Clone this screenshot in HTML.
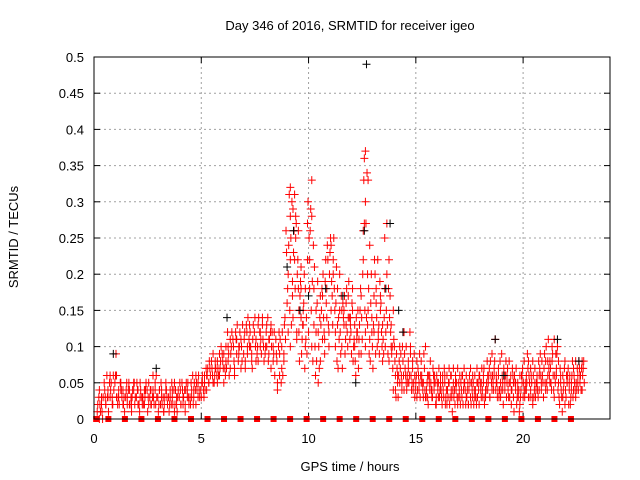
<!DOCTYPE html>
<html><head><meta charset="utf-8"><style>
html,body{margin:0;padding:0;background:#fff}
svg{display:block;font-family:"Liberation Sans",sans-serif}
</style></head><body>
<svg id="chart" width="640" height="480" viewBox="0 0 640 480">
<text x="350" y="30" text-anchor="middle" font-size="13">Day 346 of 2016, SRMTID for receiver igeo</text>
<text x="18" y="237" text-anchor="middle" font-size="13" transform="rotate(-90 18 237)">SRMTID / TECUs</text>
<text x="350" y="471" text-anchor="middle" font-size="13">GPS time / hours</text>
<g id="grid"></g>
<g id="ticks"></g>
<g id="marks"></g>
<rect x="94" y="57" width="516" height="362" fill="none" stroke="#000" stroke-width="1"/>
</svg>
<script>
const xTicks=[0,5,10,15,20];
const yTicks=[0,0.05,0.1,0.15,0.2,0.25,0.3,0.35,0.4,0.45,0.5];
const yTickLabels=["0","0.05","0.1","0.15","0.2","0.25","0.3","0.35","0.4","0.45","0.5"];
const hours=[0.2,0.3,0.4,0.5,0.6,0.7,0.8,0.9,1.0,1.1,1.2,1.3,1.4,1.5,1.6,1.7,1.8,1.9,2.0,2.1,2.2,2.3,2.4,2.5,2.6,2.7,2.8,2.9,3.0,3.1,3.2,3.3,3.4,3.5,3.6,3.7,3.8,3.9,4.0,4.1,4.2,4.3,4.4,4.5,4.6,4.7,4.8,4.9,5.0,5.1,5.2,5.3,5.4,5.5,5.6,5.7,5.8,5.9,6.0,6.1,6.2,6.3,6.4,6.5,6.6,6.7,6.8,6.9,7.0,7.1,7.2,7.3,7.4,7.5,7.6,7.7,7.8,7.9,8.0,8.1,8.2,8.3,8.4,8.5,8.6,8.7,8.8,8.9,9.0,9.1,9.2,9.3,9.4,9.5,9.6,9.7,9.8,9.9,10.0,10.1,10.2,10.3,10.4,10.5,10.6,10.7,10.8,10.9,11.0,11.1,11.2,11.3,11.4,11.5,11.6,11.7,11.8,11.9,12.0,12.1,12.2,12.3,12.4,12.5,12.6,12.7,12.8,12.9,13.0,13.1,13.2,13.3,13.4,13.5,13.6,13.7,13.8,13.9,14.0,14.1,14.2,14.3,14.4,14.5,14.6,14.7,14.8,14.9,15.0,15.1,15.2,15.3,15.4,15.5,15.6,15.7,15.8,15.9,16.0,16.1,16.2,16.3,16.4,16.5,16.6,16.7,16.8,16.9,17.0,17.1,17.2,17.3,17.4,17.5,17.6,17.7,17.8,17.9,18.0,18.1,18.2,18.3,18.4,18.5,18.6,18.7,18.8,18.9,19.0,19.1,19.2,19.3,19.4,19.5,19.6,19.7,19.8,19.9,20.0,20.1,20.2,20.3,20.4,20.5,20.6,20.7,20.8,20.9,21.0,21.1,21.2,21.3,21.4,21.5,21.6,21.7,21.8,21.9,22.0,22.1,22.2,22.3,22.4,22.5,22.6,22.7,22.8];
const srmtidCenti=[[1,3,2,0],[2,3,1,4],[0,2,3,1],[3,5,2,4],[4,6,2,3],[3,5,1,6],[4,2,5,3],[6,3,4,2],[9,5,3,6],[4,2,6,3],[3,5,2,4],[4,2,3,5],[3,4,1,2],[5,3,2,4],[2,4,3,5],[4,3,2,1],[3,5,4,2],[2,4,3,5],[4,3,2,5],[3,2,4,1],[5,3,4,2],[3,4,2,3],[4,2,5,3],[3,4,2,1],[2,3,5,4],[4,3,2,6],[3,5,2,4],[6,4,3,2],[2,3,4,1],[3,2,4,5],[4,3,2,1],[2,4,3,1],[3,5,2,4],[2,3,4,1],[4,2,3,5],[3,4,2,1],[2,3,4,5],[3,2,4,1],[4,3,2,5],[3,5,2,4],[2,4,3,1],[4,3,5,2],[3,4,2,5],[5,3,4,2],[4,6,3,2],[3,4,5,2],[5,3,4,6],[4,5,3,6],[5,4,6,3],[6,4,5,3],[5,7,4,6],[6,5,7,4],[7,5,6,8],[6,8,5,7],[7,5,9,6],[8,6,7,5],[7,9,6,8],[8,6,10,7],[7,9,5,8],[10,7,9,6],[8,12,7,10],[9,11,6,8],[10,7,12,9],[8,11,6,10],[9,12,7,11],[11,8,13,10],[10,7,12,9],[8,11,13,10],[12,9,7,11],[10,13,8,12],[9,11,14,10],[12,8,10,13],[11,9,13,7],[10,12,8,14],[13,9,11,10],[8,12,14,10],[11,13,9,12],[10,14,8,11],[12,9,13,10],[11,14,10,8],[9,12,11,13],[10,8,12,7],[12,10,6,9],[8,11,5,9],[6,10,4,12],[9,5,11,7],[12,8,6,10],[14,9,11,13],[18,23,12,16,26],[28,31,20,15,24,10],[32,30,25,19,13,22],[29,31,23,17,26,14],[28,22,27,18,11,25],[26,20,15,22,12,18],[21,17,12,19,8,14],[18,13,9,15,11],[16,10,20,13,7],[14,18,9,11,22],[25,30,18,12,27],[33,29,22,15,26,10],[28,24,19,13,8],[21,15,10,18,6],[16,12,19,8,5],[14,10,17,7,12],[11,15,8,18,13],[17,12,20,9,14],[19,14,22,11,16],[22,18,13,24,10],[25,20,15,23,12],[22,17,24,13,19],[20,15,25,12,18],[16,13,21,10,8],[14,18,11,7,15],[17,12,15,9,20],[13,16,10,14,7],[15,11,17,13,9],[18,14,12,16,10],[14,17,11,19,13],[16,12,18,9,14],[13,10,15,11,8],[10,14,8,12,6],[12,9,15,11,7],[15,11,18,13,9],[20,14,26,11,17],[30,36,22,15,33,12,27],[37,34,27,20,14,10],[33,24,18,13,9,15],[16,11,20,8,14],[13,10,17,7,12],[16,20,12,9,22],[18,22,14,11,10],[13,17,9,12,19],[12,15,10,16,8],[14,11,18,9,13],[20,12,25,15,10],[27,18,13,22,9],[14,10,17,8,12],[10,13,7,9,15],[8,11,6,10,4],[6,9,4,7,3],[5,8,3,10,6],[7,4,9,5,6],[8,5,6,10,4],[6,9,5,7,12],[8,6,10,5,4],[7,12,5,9,6],[6,8,4,10,5],[5,7,9,4,6],[6,4,8,5,3],[5,7,3,6,4],[4,6,9,5,3],[6,3,5,8,4],[7,5,4,9,3],[5,3,6,4,10],[4,6,3,5,2],[6,4,8,3,5],[3,5,7,4,6],[5,4,2,6,3],[4,6,3,5,2],[6,3,5,4,7],[5,2,4,6,3],[4,6,3,5,7],[3,5,4,2,6],[5,4,7,3,2],[4,3,5,6,2],[6,4,3,5,1],[3,5,4,7,2],[5,6,3,4,2],[4,3,6,5,7],[6,5,3,4,2],[3,4,6,5,2],[5,3,4,7,2],[4,6,5,3,2],[5,4,3,6,2],[3,5,7,4,2],[6,4,5,3,2],[4,5,3,6,2],[5,7,4,3,6],[4,6,3,5,2],[6,4,5,3,7],[5,3,7,4,2],[4,6,5,3,8],[6,4,7,5,3],[5,8,4,6,3],[7,5,9,4,6],[6,4,8,5,11],[5,7,3,6,4],[4,6,8,3,5],[6,4,5,9,3],[5,7,4,6,2],[4,3,6,5,8],[7,5,4,6,3],[5,8,6,3,4],[6,4,5,7,2],[4,6,3,5,1],[5,3,7,4,2],[3,6,4,5,1],[4,2,6,3,5],[5,7,4,3,6],[6,4,8,5,3],[4,7,5,3,9],[6,4,5,8,3],[5,7,3,6,2],[4,6,5,3,8],[6,4,7,5,3],[5,8,4,6,3],[7,5,9,4,6],[6,4,5,8,3],[5,7,4,9,3],[6,5,8,4,10],[8,6,11,5,7],[7,10,5,8,4],[6,8,4,9,3],[9,6,7,5,11],[8,10,6,4,9],[5,7,3,6,2],[4,6,3,5,1],[5,3,7,4,2],[6,4,5,3,8],[4,7,5,2,6],[5,3,6,4,2],[6,4,8,5,3],[5,7,4,6,3],[7,5,6,4,8],[6,8,5,7,4],[5,7,6,8,4],[6,5,7,4,8]];
const blackHours=[0.9,2.9,6.2,9.0,9.3,9.6,10.0,10.8,11.6,12.2,12.6,12.7,13.6,13.8,14.2,14.4,18.7,19.1,21.6,22.6];
const blackValues=[0.09,0.07,0.14,0.21,0.26,0.15,0.17,0.18,0.17,0.05,0.26,0.49,0.18,0.27,0.15,0.12,0.11,0.06,0.11,0.08];
const gapHours=[0.1,0.67,1.44,2.21,2.98,3.75,4.52,5.29,6.06,6.83,7.6,8.37,9.14,9.91,10.68,11.45,12.22,12.99,13.76,14.53,15.3,16.07,16.84,17.61,18.38,19.15,19.92,20.69,21.46,22.23];

const X0=94,X1=610,Y0=419,Y1=57,XMAX=24.05,YMAX=0.5;
function xs(h){return X0+(X1-X0)*h/XMAX;}
function ys(v){return Y0-(Y0-Y1)*v/YMAX;}
const NS="http://www.w3.org/2000/svg";
function mk(tag,attrs,parent){const e=document.createElementNS(NS,tag);for(const k in attrs)e.setAttribute(k,attrs[k]);parent.appendChild(e);return e;}
const grid=document.getElementById('grid'),ticks=document.getElementById('ticks'),marks=document.getElementById('marks');
yTicks.forEach((v,i)=>{
  const y=ys(v);
  if(i>0&&i<yTicks.length-1){const g=mk('line',{x1:X0,x2:X1,y1:y,y2:y,stroke:'#a0a0a0','stroke-dasharray':'2,3'},grid);
  
  }
  const t1=mk('line',{x1:X0,x2:X0+6,y1:y,y2:y,stroke:'#000'},ticks);
  
  
  mk('line',{x1:X1-6,x2:X1,y1:y,y2:y,stroke:'#000'},ticks);
  const l=mk('text',{x:X0-10,y:y+5,'text-anchor':'end','font-size':'13'},ticks);
  l.textContent=yTickLabels[i];
  
  
});
xTicks.forEach(h=>{
  const x=xs(h);
  if(h>0){const g=mk('line',{x1:x,x2:x,y1:Y1,y2:Y0,stroke:'#a0a0a0','stroke-dasharray':'2,3'},grid);
  
  }
  const t=mk('line',{x1:x,x2:x,y1:Y0,y2:Y0-6,stroke:'#000'},ticks);
  
  
  mk('line',{x1:x,x2:x,y1:Y1,y2:Y1+6,stroke:'#000'},ticks);
  const l=mk('text',{x:x,y:Y0+24,'text-anchor':'middle','font-size':'13'},ticks);
  l.textContent=String(h);
  
  
});
function plus(x,y,c){
  return mk('path',{d:`M${x-4} ${y}H${x+4}M${x} ${y-4}V${y+4}`,stroke:c,'stroke-width':'1',fill:'none'},marks);
}
hours.forEach((h,i)=>{
  srmtidCenti[i].forEach((c,j)=>{
    const off=((j*3+i)%5-2)*0.025;
    const p=plus(xs(h+off),ys(c/100),'#ff0000');
    
    
  });
});
blackHours.forEach((h,i)=>{
  const p=plus(xs(h),ys(blackValues[i]),'#000000');
  
  
});
gapHours.forEach(h=>{
  const r=mk('rect',{x:xs(h)-3,y:Y0-3,width:6,height:6,fill:'#ff0000'},marks);
  
  
});
</script>
</body></html>
